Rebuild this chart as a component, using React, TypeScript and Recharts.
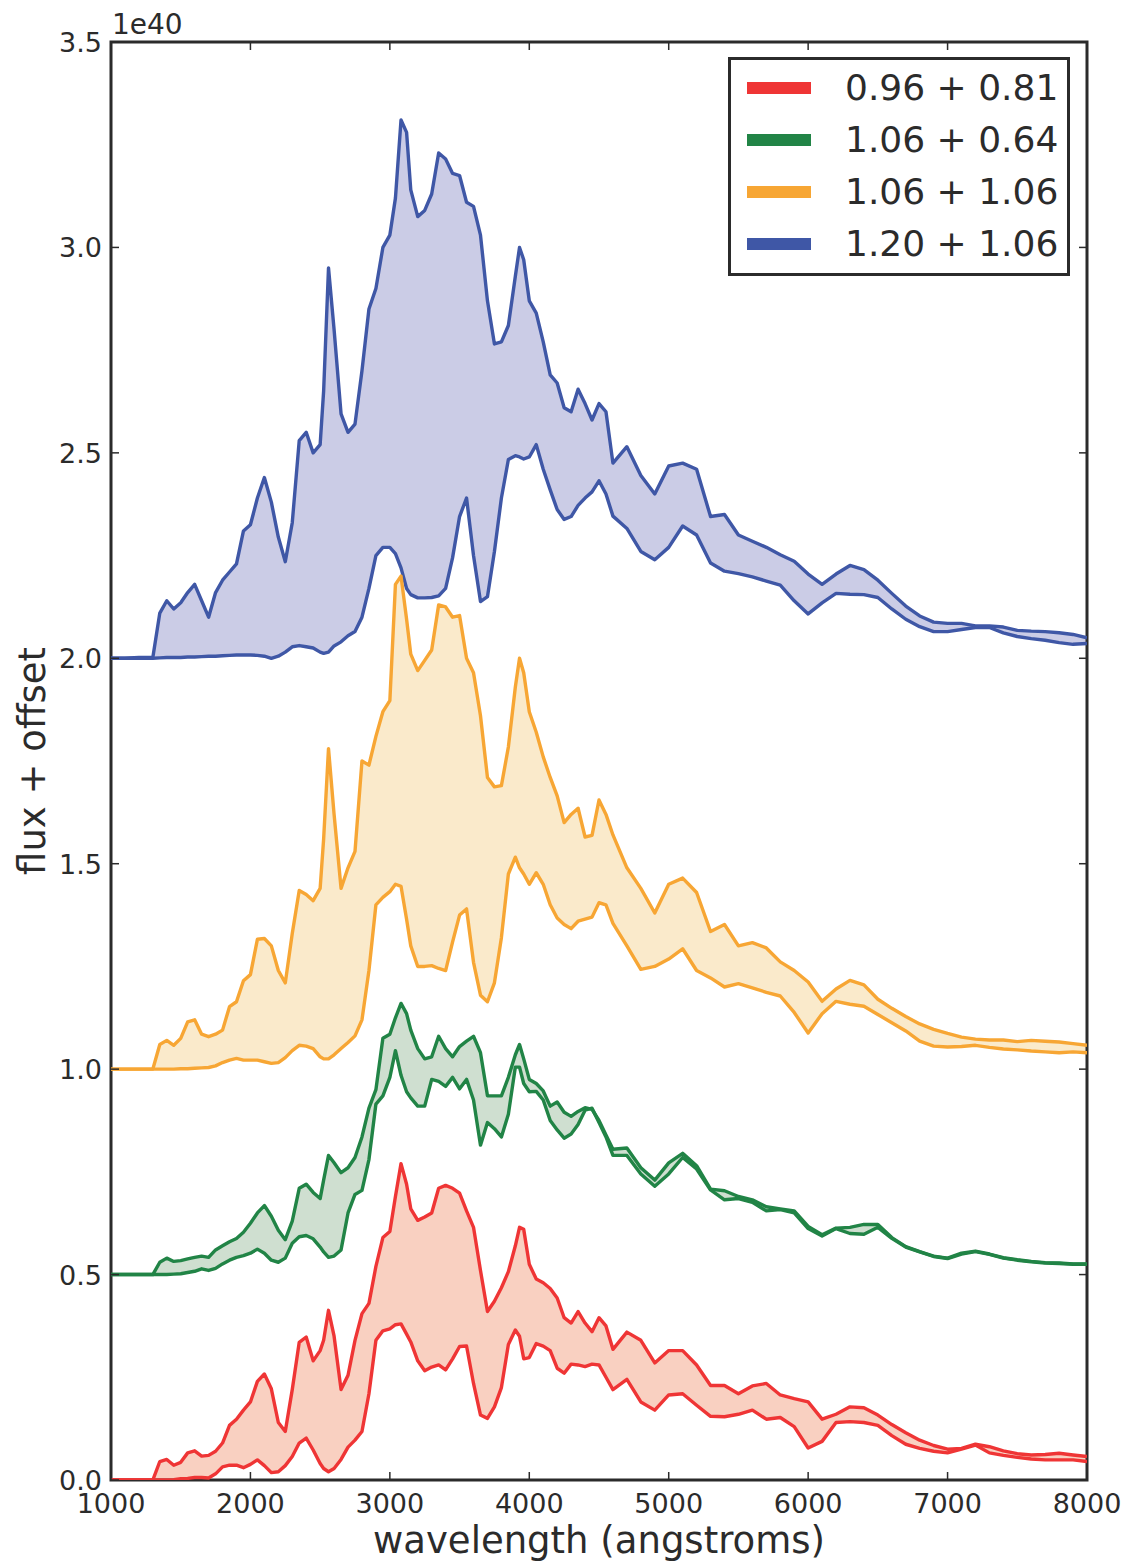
import {
  ComposedChart, Area, Line, XAxis, YAxis, ReferenceArea, Legend, Label,
} from 'recharts';

// wavelength grid (angstroms) shared by all spectra
const WAVELENGTH = [
  1000, 1100, 1200, 1300, 1350, 1400, 1450, 1500, 1550, 1600,
  1650, 1700, 1750, 1800, 1850, 1900, 1950, 2000, 2050, 2100,
  2150, 2200, 2250, 2300, 2350, 2400, 2450, 2500, 2525, 2560,
  2600, 2650, 2700, 2750, 2800, 2850, 2900, 2950, 3000, 3040,
  3080, 3120, 3150, 3200, 3250, 3300, 3350, 3400, 3450, 3500,
  3550, 3600, 3650, 3700, 3750, 3800, 3850, 3900, 3930, 3960,
  4000, 4050, 4100, 4150, 4200, 4250, 4300, 4350, 4400, 4450,
  4500, 4550, 4600, 4700, 4800, 4900, 5000, 5100, 5200, 5300,
  5400, 5500, 5600, 5700, 5800, 5900, 6000, 6100, 6200, 6300,
  6400, 6500, 6600, 6700, 6800, 6900, 7000, 7100, 7200, 7300,
  7400, 7500, 7600, 7700, 7800, 7900, 8000,
];

// flux + offset, units of 1e40
const BLUE_UPPER = [
  2.0, 2.0, 2.002, 2.002, 2.11, 2.14, 2.12, 2.135, 2.16, 2.18,
  2.14, 2.10, 2.16, 2.19, 2.21, 2.23, 2.31, 2.325, 2.39, 2.44,
  2.38, 2.295, 2.235, 2.33, 2.53, 2.55, 2.50, 2.52, 2.65, 2.95,
  2.80, 2.595, 2.55, 2.57, 2.70, 2.85, 2.90, 3.00, 3.03, 3.12,
  3.31, 3.28, 3.14, 3.075, 3.09, 3.13, 3.23, 3.215, 3.18, 3.175,
  3.11, 3.10, 3.03, 2.87, 2.765, 2.77, 2.81, 2.93, 3.00, 2.97,
  2.87, 2.84, 2.77, 2.69, 2.67, 2.61, 2.60, 2.655, 2.62, 2.58,
  2.62, 2.60, 2.475, 2.515, 2.445, 2.40, 2.468, 2.475, 2.46, 2.345,
  2.35, 2.30, 2.285, 2.27, 2.252, 2.236, 2.205, 2.18, 2.205, 2.226,
  2.216, 2.19, 2.158, 2.127, 2.103, 2.088, 2.085, 2.085, 2.079, 2.079,
  2.076, 2.068, 2.066, 2.065, 2.062, 2.058, 2.05,
];
const BLUE_LOWER = [
  2.0, 2.0, 2.0, 2.0, 2.001, 2.002, 2.002, 2.002, 2.003, 2.003,
  2.004, 2.005, 2.005, 2.006, 2.007, 2.008, 2.008, 2.008, 2.007, 2.005,
  2.0, 2.005, 2.015, 2.028, 2.031, 2.028, 2.025, 2.015, 2.012, 2.015,
  2.03, 2.04, 2.055, 2.065, 2.10, 2.17, 2.25, 2.27, 2.27, 2.255,
  2.22, 2.17, 2.155, 2.147, 2.147, 2.148, 2.152, 2.17, 2.245, 2.345,
  2.39, 2.25, 2.138, 2.15, 2.26, 2.39, 2.484, 2.493, 2.49, 2.485,
  2.49, 2.52, 2.46, 2.41, 2.362, 2.338, 2.345, 2.372, 2.39, 2.405,
  2.432, 2.40, 2.346, 2.316, 2.26, 2.24, 2.27, 2.322, 2.30, 2.232,
  2.212, 2.206, 2.198, 2.188, 2.178, 2.14, 2.108, 2.135, 2.158, 2.156,
  2.155, 2.148, 2.12, 2.095, 2.077, 2.065, 2.065, 2.07, 2.075, 2.075,
  2.062, 2.053, 2.048, 2.044, 2.038, 2.034, 2.036,
];
const ORANGE_UPPER = [
  1.0, 1.0, 1.0, 1.0, 1.06, 1.07, 1.058, 1.075, 1.115, 1.12,
  1.085, 1.079, 1.085, 1.095, 1.152, 1.164, 1.215, 1.23, 1.316, 1.318,
  1.30, 1.24, 1.21, 1.33, 1.435, 1.425, 1.41, 1.44, 1.56, 1.78,
  1.62, 1.44, 1.49, 1.53, 1.75, 1.74, 1.81, 1.87, 1.897, 2.18,
  2.20, 2.095, 2.01, 1.97, 1.995, 2.02, 2.13, 2.125, 2.10, 2.104,
  2.00, 1.965, 1.86, 1.71, 1.687, 1.69, 1.784, 1.93, 2.0, 1.965,
  1.87, 1.82, 1.76, 1.71, 1.665, 1.60, 1.62, 1.635, 1.565, 1.569,
  1.655, 1.62, 1.57, 1.49, 1.44, 1.38, 1.45, 1.465, 1.43, 1.335,
  1.352, 1.30, 1.308, 1.295, 1.261, 1.24, 1.212, 1.165, 1.195, 1.216,
  1.205, 1.17, 1.148, 1.128, 1.11, 1.097, 1.087, 1.078, 1.073, 1.071,
  1.071, 1.067, 1.07, 1.068, 1.066, 1.062, 1.058,
];
const ORANGE_LOWER = [
  1.0, 1.0, 1.0, 1.0, 1.0, 1.0, 1.0, 1.001, 1.001, 1.002,
  1.003, 1.004, 1.008, 1.016, 1.022, 1.026, 1.022, 1.022, 1.022, 1.018,
  1.014, 1.016, 1.028, 1.045, 1.058, 1.056, 1.05, 1.03, 1.025, 1.025,
  1.035, 1.05, 1.065, 1.081, 1.12, 1.24, 1.40, 1.418, 1.432, 1.45,
  1.445, 1.365, 1.30, 1.25, 1.25, 1.252, 1.245, 1.24, 1.31, 1.375,
  1.39, 1.26, 1.18, 1.164, 1.21, 1.32, 1.475, 1.516, 1.49, 1.475,
  1.45, 1.478, 1.45, 1.40, 1.368, 1.352, 1.342, 1.36, 1.365, 1.37,
  1.405, 1.40, 1.355, 1.30, 1.243, 1.25, 1.268, 1.293, 1.24, 1.222,
  1.20, 1.208, 1.198, 1.187, 1.178, 1.138, 1.088, 1.135, 1.165, 1.158,
  1.153, 1.133, 1.113, 1.093, 1.068, 1.056, 1.054, 1.055, 1.058, 1.053,
  1.049, 1.047, 1.044, 1.042, 1.04, 1.042, 1.04,
];
const GREEN_UPPER = [
  0.5, 0.5, 0.5, 0.5, 0.53, 0.54, 0.532, 0.534, 0.538, 0.542,
  0.545, 0.542, 0.56, 0.57, 0.58, 0.588, 0.603, 0.625, 0.65, 0.668,
  0.642, 0.608, 0.585, 0.63, 0.71, 0.72, 0.70, 0.685, 0.73, 0.79,
  0.772, 0.748, 0.76, 0.785, 0.835, 0.905, 0.95, 1.075, 1.085, 1.125,
  1.16, 1.135, 1.095, 1.05, 1.025, 1.03, 1.08, 1.05, 1.03, 1.055,
  1.068, 1.08, 1.04, 0.935, 0.935, 0.935, 0.98, 1.035, 1.06, 1.025,
  0.975, 0.965, 0.947, 0.91, 0.92, 0.895, 0.885, 0.897, 0.906, 0.902,
  0.875, 0.84, 0.805, 0.808, 0.76, 0.73, 0.772, 0.795, 0.765, 0.708,
  0.704, 0.69, 0.682, 0.665, 0.66, 0.655, 0.617, 0.597, 0.613, 0.615,
  0.622, 0.622, 0.59, 0.568, 0.556, 0.545, 0.54, 0.552, 0.557, 0.55,
  0.541, 0.536, 0.532, 0.529, 0.528, 0.526, 0.526,
];
const GREEN_LOWER = [
  0.5, 0.5, 0.5, 0.5, 0.5, 0.5, 0.501, 0.502, 0.505, 0.508,
  0.514, 0.51, 0.515, 0.526, 0.535, 0.542, 0.546, 0.552, 0.562, 0.552,
  0.535, 0.53, 0.54, 0.576, 0.592, 0.595, 0.587, 0.567, 0.555, 0.542,
  0.545, 0.56, 0.65, 0.695, 0.705, 0.78, 0.915, 0.935, 0.98, 1.045,
  0.985, 0.945, 0.93, 0.91, 0.91, 0.975, 0.97, 0.958, 0.98, 0.952,
  0.975, 0.925, 0.815, 0.87, 0.855, 0.835, 0.89, 1.005, 1.005, 0.965,
  0.945, 0.946, 0.925, 0.875, 0.852, 0.832, 0.842, 0.865, 0.90, 0.905,
  0.87, 0.835, 0.79, 0.79, 0.745, 0.715, 0.745, 0.785, 0.757, 0.706,
  0.682, 0.685, 0.676, 0.655, 0.658, 0.65, 0.612, 0.594, 0.612, 0.60,
  0.598, 0.615, 0.588, 0.567, 0.555, 0.544, 0.539, 0.55, 0.556, 0.549,
  0.54, 0.535, 0.531, 0.528, 0.527, 0.525, 0.525,
];
const RED_UPPER = [
  0, 0, 0, 0, 0.045, 0.05, 0.036, 0.043, 0.066, 0.071,
  0.058, 0.06, 0.07, 0.09, 0.133, 0.148, 0.17, 0.19, 0.24, 0.258,
  0.222, 0.14, 0.118, 0.22, 0.335, 0.348, 0.29, 0.315, 0.34, 0.413,
  0.35, 0.22, 0.255, 0.34, 0.405, 0.43, 0.52, 0.59, 0.605, 0.69,
  0.77, 0.72, 0.66, 0.632, 0.64, 0.65, 0.71, 0.717, 0.71, 0.698,
  0.655, 0.615, 0.51, 0.41, 0.435, 0.468, 0.507, 0.57, 0.615, 0.61,
  0.525, 0.489, 0.48, 0.466, 0.443, 0.395, 0.382, 0.41, 0.382, 0.361,
  0.395, 0.375, 0.318, 0.36, 0.34, 0.285, 0.315, 0.315, 0.28, 0.23,
  0.23, 0.21, 0.229, 0.235, 0.207, 0.198, 0.19, 0.148, 0.16, 0.178,
  0.176, 0.158, 0.135, 0.115, 0.097, 0.084, 0.075, 0.077, 0.087, 0.081,
  0.071, 0.064, 0.061, 0.062, 0.065, 0.061, 0.057,
];
const RED_LOWER = [
  0, 0, 0, 0, 0, 0, 0.001, 0.003, 0.004, 0.006,
  0.006, 0.005, 0.015, 0.032, 0.036, 0.036, 0.03, 0.038, 0.049, 0.035,
  0.018, 0.02, 0.035, 0.057, 0.09, 0.102, 0.073, 0.04, 0.028, 0.02,
  0.028, 0.05, 0.08, 0.097, 0.118, 0.21, 0.34, 0.363, 0.368, 0.378,
  0.38, 0.355, 0.336, 0.29, 0.266, 0.275, 0.28, 0.268, 0.295, 0.325,
  0.326, 0.235, 0.158, 0.15, 0.178, 0.225, 0.33, 0.365, 0.35, 0.295,
  0.298, 0.332, 0.326, 0.315, 0.272, 0.26, 0.282, 0.28, 0.276, 0.282,
  0.28, 0.25, 0.22, 0.245, 0.19, 0.17, 0.207, 0.21, 0.182, 0.155,
  0.154, 0.16, 0.17, 0.148, 0.152, 0.13, 0.078, 0.094, 0.14, 0.142,
  0.14, 0.133, 0.108, 0.087, 0.077, 0.07, 0.066, 0.075, 0.085, 0.066,
  0.06, 0.055, 0.051, 0.049, 0.049, 0.049, 0.045,
];

const X_TICKS = [1000, 2000, 3000, 4000, 5000, 6000, 7000, 8000];
const Y_TICKS = [0, 0.5, 1.0, 1.5, 2.0, 2.5, 3.0, 3.5];

// drawn back to front; legend lists them in reverse
const SERIES = [
  { key: 'blue', label: '1.20 + 1.06', line: '#3f57a6', fill: '#cbcce6', upper: BLUE_UPPER, lower: BLUE_LOWER },
  { key: 'orange', label: '1.06 + 1.06', line: '#f7a634', fill: '#faeacb', upper: ORANGE_UPPER, lower: ORANGE_LOWER },
  { key: 'green', label: '1.06 + 0.64', line: '#218446', fill: '#cfdfd0', upper: GREEN_UPPER, lower: GREEN_LOWER },
  { key: 'red', label: '0.96 + 0.81', line: '#ef3535', fill: '#f9d0c1', upper: RED_UPPER, lower: RED_LOWER },
];

const data = WAVELENGTH.map((w, i) => {
  const row: Record<string, any> = { w };
  SERIES.forEach((s) => {
    row[s.key + 'Hi'] = s.upper[i];
    row[s.key + 'Lo'] = s.lower[i];
    row[s.key + 'Band'] = [s.lower[i], s.upper[i]];
  });
  return row;
});

const W = 1119;
const H = 1555;
const PLOT_LEFT = 103;
const PLOT_TOP = 34;
const PLOT_RIGHT = 1079;
const PLOT_BOTTOM = 1472;
const INK = '#2b2b2b';
const FONT = '"DejaVu Sans", sans-serif';

function YTick({ y, payload }: any) {
  return (
    <g>
      <line x1={PLOT_LEFT} x2={PLOT_LEFT + 8} y1={y} y2={y} stroke={INK} strokeWidth={1.5} />
      <line x1={PLOT_RIGHT - 8} x2={PLOT_RIGHT} y1={y} y2={y} stroke={INK} strokeWidth={1.5} />
      <text x={PLOT_LEFT - 9} y={y + 10} textAnchor="end" fontSize={27} fontFamily={FONT} fill={INK}>
        {Number(payload.value).toFixed(1)}
      </text>
    </g>
  );
}

function XTick({ x, payload }: any) {
  return (
    <g>
      <line x1={x} x2={x} y1={PLOT_BOTTOM} y2={PLOT_BOTTOM - 8} stroke={INK} strokeWidth={1.5} />
      <line x1={x} x2={x} y1={PLOT_TOP} y2={PLOT_TOP + 8} stroke={INK} strokeWidth={1.5} />
      <text x={x} y={PLOT_BOTTOM + 33} textAnchor="middle" fontSize={27} fontFamily={FONT} fill={INK}>
        {payload.value}
      </text>
    </g>
  );
}

function YLabels({ viewBox }: any) {
  const cy = viewBox.y + viewBox.height / 2;
  return (
    <g>
      <text x={PLOT_LEFT + 1} y={PLOT_TOP - 8} fontSize={28} fontFamily={FONT} fill={INK}>1e40</text>
      <text
        x={37} y={cy} textAnchor="middle" fontSize={37} fontFamily={FONT} fill={INK}
        transform={`rotate(-90, 37, ${cy})`}
      >
        flux + offset
      </text>
    </g>
  );
}

function XLabel({ viewBox }: any) {
  return (
    <text
      x={viewBox.x + viewBox.width / 2} y={viewBox.y + 73}
      textAnchor="middle" fontSize={37} fontFamily={FONT} fill={INK}
    >
      wavelength (angstroms)
    </text>
  );
}

function LegendBox() {
  const rows = [...SERIES].reverse();
  return (
    <div
      style={{
        boxSizing: 'border-box',
        width: 342,
        border: `3px solid ${INK}`,
        background: '#fff',
        padding: '2px 0 3px 0',
        fontFamily: FONT,
      }}
    >
      {rows.map((s) => (
        <div key={s.key} style={{ display: 'flex', alignItems: 'center', height: 52 }}>
          <div style={{ width: 64, height: 12, background: s.line, marginLeft: 16, marginRight: 34 }} />
          <span style={{ fontSize: 36, color: INK, lineHeight: '52px', whiteSpace: 'nowrap' }}>{s.label}</span>
        </div>
      ))}
    </div>
  );
}

export default function App() {
  return (
    <div style={{ width: W, height: H, position: 'relative', background: '#fff' }}>
      <ComposedChart
        width={W}
        height={H}
        data={data}
        margin={{ top: PLOT_TOP, right: W - PLOT_RIGHT, left: 0, bottom: 0 }}
      >
        <XAxis
          type="number" dataKey="w" domain={[1000, 8000]} ticks={X_TICKS} interval={0}
          height={H - PLOT_BOTTOM} tickSize={0} tickMargin={0} axisLine={false}
          tick={<XTick />} allowDataOverflow
        >
          <Label content={<XLabel />} />
        </XAxis>
        <YAxis
          type="number" domain={[0, 3.5]} ticks={Y_TICKS} interval={0}
          width={PLOT_LEFT} tickSize={0} tickMargin={0} axisLine={false}
          tick={<YTick />} allowDataOverflow
        >
          <Label content={<YLabels />} />
        </YAxis>

        {SERIES.map((s) => [
          <Area
            key={s.key + 'Band'} dataKey={s.key + 'Band'} type="linear"
            stroke="none" fill={s.fill} fillOpacity={1}
            isAnimationActive={false} activeDot={false}
          />,
          <Line
            key={s.key + 'Hi'} dataKey={s.key + 'Hi'} type="linear" stroke={s.line}
            strokeWidth={3.4} strokeLinejoin="round" dot={false} activeDot={false} isAnimationActive={false}
          />,
          <Line
            key={s.key + 'Lo'} dataKey={s.key + 'Lo'} type="linear" stroke={s.line}
            strokeWidth={3.4} strokeLinejoin="round" dot={false} activeDot={false} isAnimationActive={false}
          />,
        ])}

        <ReferenceArea
          x1={1000} x2={8000} y1={0} y2={3.5}
          fill="none" fillOpacity={0} stroke={INK} strokeWidth={3}
        />
        <Legend
          layout="vertical" align="center" verticalAlign="middle"
          wrapperStyle={{ top: 49, left: 720, width: 342 }}
          content={<LegendBox />}
        />
      </ComposedChart>
    </div>
  );
}
